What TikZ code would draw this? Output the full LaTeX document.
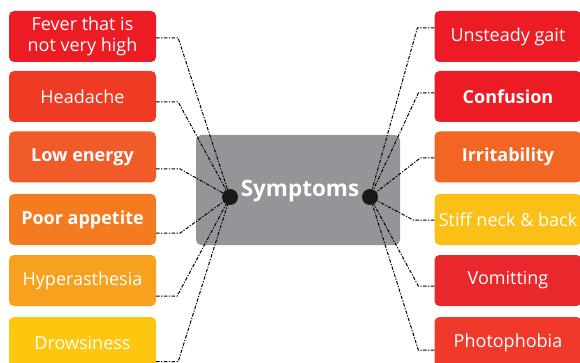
\documentclass[tikz,border=0pt]{standalone}
\usepackage{fontspec}
\setmainfont{Open Sans}
\begin{document}
\begin{tikzpicture}[x=1pt,y=-1pt,
  sbox/.style={rounded corners=5pt, minimum width=147pt, minimum height=51pt, inner sep=0pt, text=white, font=\fontsize{18}{21}\selectfont, align=center},
  bsbox/.style={sbox, font=\fontsize{18}{21}\selectfont\bfseries},
  conn/.style={line width=1pt, black, dash pattern=on 3.5pt off 1.5pt on 1.2pt off 1.5pt},
  dot/.style={circle, fill=black!90, minimum size=16pt, inner sep=0pt}]
\useasboundingbox (0,0) rectangle (580,363);
\clip (0,0) rectangle (580,363);
\definecolor{cA}{HTML}{ED1C24}
\definecolor{cB}{HTML}{EF3B24}
\definecolor{cC}{HTML}{F15A29}
\definecolor{cD}{HTML}{F47B20}
\definecolor{cE}{HTML}{F7A11E}
\definecolor{cF}{HTML}{FDC60F}
\definecolor{cG}{HTML}{F26522}
\definecolor{cH}{HTML}{FBC018}
\definecolor{cI}{HTML}{E8282A}
\definecolor{cJ}{HTML}{EF3A2B}
\definecolor{cgray}{HTML}{939598}
% left boxes
\node[sbox, fill=cA] (l1) at (82.5,36.5) {Fever that is\\not very high};
\node[sbox, fill=cB] (l2) at (82.5,96.5) {Headache};
\node[bsbox, fill=cC] (l3) at (82.5,157) {Low energy};
\node[bsbox, fill=cD] (l4) at (82.5,219.5) {Poor appetite};
\node[sbox, fill=cE] (l5) at (82.5,280.5) {Hyperasthesia};
\node[sbox, fill=cF] (l6) at (82.5,342.5) {Drowsiness};
% right boxes
\node[sbox, fill=cA] (r1) at (508,36.5) {Unsteady gait};
\node[bsbox, fill=cA] (r2) at (508,96.5) {Confusion};
\node[bsbox, fill=cG] (r3) at (508,157) {Irritability};
\node[sbox, fill=cH] (r4) at (508,219.5) {Stiff neck \& back};
\node[sbox, fill=cI] (r5) at (508,280.5) {Vomitting};
\node[sbox, fill=cJ] (r6) at (508,342.5) {Photophobia};
% center
\node[rounded corners=5pt, fill=cgray, minimum width=204pt, minimum height=110pt, inner sep=0pt] (c) at (298,190) {};
\coordinate (ld) at (230,197);
\coordinate (rd) at (370,197);
% connectors
\draw[conn] ([yshift=-1.5pt]l1.east) -- ++(22,0) -- (ld);
\draw[conn] ([yshift=-5.5pt]l2.east) -- ++(22,0) -- (ld);
\draw[conn] ([yshift=-12pt]l3.east) -- ++(24,0) -- (ld);
\draw[conn] ([yshift=-13.5pt]l4.east) -- ++(24,0) -- (ld);
\draw[conn] ([yshift=-15.5pt]l5.east) -- ++(21,0) -- (ld);
\draw[conn] ([yshift=-19pt]l6.east) -- ++(22,0) -- (ld);
\draw[conn] ([yshift=8.5pt]r1.west) -- ++(-17,0) -- (rd);
\draw[conn] ([yshift=3.5pt]r2.west) -- ++(-16,0) -- (rd);
\draw[conn] ([yshift=-1pt]r3.west) -- ++(-14,0) -- (rd);
\draw[conn] ([yshift=-0.5pt]r4.west) -- ++(-21,0) -- (rd);
\draw[conn] ([yshift=-5.5pt]r5.west) -- ++(-16,0) -- (rd);
\draw[conn] ([yshift=-7.5pt]r6.west) -- ++(-16,0) -- (rd);
\node[dot] (ldot) at (ld) {};
\node[dot] (rdot) at (rd) {};
\node[text=white, font=\fontsize{22.5}{25}\selectfont\bfseries] (t) at (300,191) {Symptoms};
\end{tikzpicture}
\end{document}
